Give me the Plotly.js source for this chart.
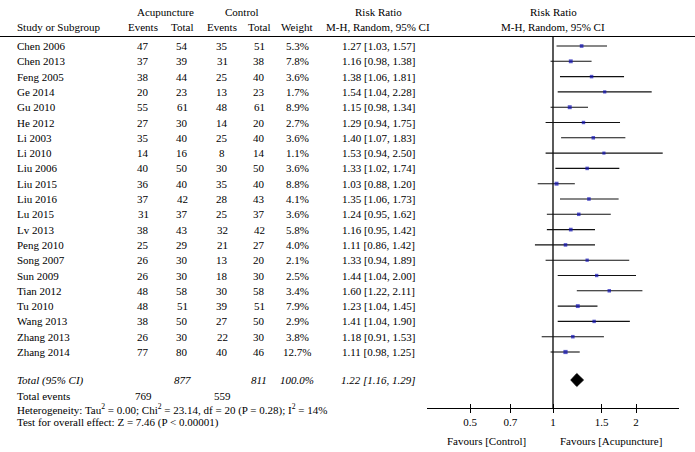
<!DOCTYPE html>
<html>
<head>
<meta charset="utf-8">
<script src="https://cdn.plot.ly/plotly-3.0.1.min.js"></script>
<style>html,body{margin:0;padding:0;background:#fff;}#chart{width:695px;height:452px;}</style>
</head>
<body>
<div id="chart"></div>
<script>
// ---- data ----
var studies = ["Chen 2006","Chen 2013","Feng 2005","Ge 2014","Gu 2010","He 2012","Li 2003","Li 2010","Liu 2006","Liu 2015","Liu 2016","Lu 2015","Lv 2013","Peng 2010","Song 2007","Sun 2009","Tian 2012","Tu 2010","Wang 2013","Zhang 2013","Zhang 2014"];
var acuEvents = [47,37,38,20,55,27,35,14,40,36,37,31,38,25,26,26,48,48,38,26,77];
var acuTotal = [54,39,44,23,61,30,40,16,50,40,42,37,43,29,30,30,58,51,50,30,80];
var ctrlEvents = [35,31,25,13,48,14,25,8,30,35,28,25,32,21,13,18,30,39,27,22,40];
var ctrlTotal = [51,38,40,23,61,20,40,14,50,40,43,37,42,27,20,30,58,51,50,30,46];
var weights = [5.3,7.8,3.6,1.7,8.9,2.7,3.6,1.1,3.6,8.8,4.1,3.6,5.8,4.0,2.1,2.5,3.4,7.9,2.9,3.8,12.7];
var rr = [1.27,1.16,1.38,1.54,1.15,1.29,1.40,1.53,1.33,1.03,1.35,1.24,1.16,1.11,1.33,1.44,1.60,1.23,1.41,1.18,1.11];
var lower = [1.03,0.98,1.06,1.04,0.98,0.94,1.07,0.94,1.02,0.88,1.06,0.95,0.95,0.86,0.94,1.04,1.22,1.04,1.04,0.91,0.98];
var upper = [1.57,1.38,1.81,2.28,1.34,1.75,1.83,2.50,1.74,1.20,1.73,1.62,1.42,1.42,1.89,2.00,2.11,1.45,1.90,1.53,1.25];
var totalLabel = "Total (95% CI)";
var totalAcu = 877, totalCtrl = 811, totalWeight = 100.0;
var totalEventsAcu = 769, totalEventsCtrl = 559;
var totalRR = 1.22, totalLower = 1.16, totalUpper = 1.29;
var heterogeneityText = "Heterogeneity: Tau<sup>2</sup> = 0.00; Chi<sup>2</sup> = 23.14, df = 20 (P = 0.28); I<sup>2</sup> = 14%";
var overallText = "Test for overall effect: Z = 7.46 (P < 0.00001)";
var tickVals = [0.5, 0.7, 1, 1.5, 2];
var tickText = ["0.5", "0.7", "1", "1.5", "2"];
var favoursLeft = "Favours [Control]";
var favoursRight = "Favours [Acupuncture]";

// ---- layout helpers ----
var W = 695, H = 452;
var FONT = "Liberation Serif, Times New Roman, serif";
function rowAt(px) { return (px - 46) / 15.3; }   // pixel -> row units
function px(x) { return x / W; }
var rows = studies.map(function (s, i) { return i; });
var yTotal = rowAt(380), yEvents = rowAt(396), yHetBottom = rowAt(419), yTest = rowAt(422);
var yHead1 = rowAt(12), yHead2 = rowAt(27);
var yLine = rowAt(36.5), yAxis = rowAt(408);

var annotations = [];
function txt(text, x, y, anchor, extra) {
  var a = {text: text, xref: 'paper', yref: 'y', x: px(x), y: y, xanchor: anchor || 'center', yanchor: 'middle',
    showarrow: false, font: {family: FONT, size: 11, color: '#000'}};
  if (extra) for (var k in extra) a[k] = extra[k];
  annotations.push(a);
}
// column centers
var cName = 15, cAE = 143, cAT = 182, cCE = 222, cCT = 259, cW = 297, cRR = 378, cPlot = 553;
// headers
txt("Acupuncture", 165, yHead1);
txt("Control", 242, yHead1);
txt("Risk Ratio", cRR, yHead1);
txt("Risk Ratio", cPlot, yHead1);
txt("Study or Subgroup", cName, yHead2, 'left');
txt("Events", cAE, yHead2);
txt("Total", cAT, yHead2);
txt("Events", cCE, yHead2);
txt("Total", cCT, yHead2);
txt("Weight", cW, yHead2);
txt("M-H, Random, 95% CI", cRR, yHead2);
txt("M-H, Random, 95% CI", cPlot, yHead2);
function ci(r, l, u) { return r.toFixed(2) + " [" + l.toFixed(2) + ", " + u.toFixed(2) + "]"; }
studies.forEach(function (s, i) {
  var y = rows[i];
  txt(s, cName, y, 'left');
  txt(String(acuEvents[i]), cAE, y);
  txt(String(acuTotal[i]), cAT, y);
  txt(String(ctrlEvents[i]), cCE, y);
  txt(String(ctrlTotal[i]), cCT, y);
  txt(weights[i].toFixed(1) + "%", cW, y);
  txt(ci(rr[i], lower[i], upper[i]), cRR, y);
});
txt("<i>" + totalLabel + "</i>", cName, yTotal, 'left');
txt("<i>" + totalAcu + "</i>", cAT, yTotal);
txt("<i>" + totalCtrl + "</i>", cCT, yTotal);
txt("<i>" + totalWeight.toFixed(1) + "%</i>", cW, yTotal);
txt("<i>" + ci(totalRR, totalLower, totalUpper) + "</i>", cRR, yTotal);
txt("Total events", cName, yEvents, 'left');
txt(String(totalEventsAcu), cAE, yEvents);
txt(String(totalEventsCtrl), cCE, yEvents);
txt(heterogeneityText, cName, yHetBottom, 'left', {yanchor: 'bottom'});
txt(overallText, cName, yTest, 'left');
txt(favoursLeft, 528, rowAt(441), 'right');
txt(favoursRight, 558, rowAt(441), 'left');

var traces = [
  {
    type: 'scatter', mode: 'markers', x: rr, y: rows, xaxis: 'x', yaxis: 'y',
    marker: {symbol: 'square', color: '#0f0fb4', line: {width: 0},
      size: weights.map(function (w) { return 2.7 + 0.42 * Math.sqrt(w); })},
    error_x: {type: 'data', symmetric: false,
      array: upper.map(function (u, i) { return u - rr[i]; }),
      arrayminus: lower.map(function (l, i) { return rr[i] - l; }),
      color: '#111', thickness: 1.1, width: 0},
    hoverinfo: 'skip', cliponaxis: false
  },
  {
    type: 'scatter', mode: 'lines', xaxis: 'x', yaxis: 'y',
    x: [totalLower, totalRR, totalUpper, totalRR, totalLower],
    y: [yTotal, yTotal - 0.42, yTotal, yTotal + 0.42, yTotal],
    fill: 'toself', fillcolor: '#000', line: {color: '#000', width: 1}, hoverinfo: 'skip'
  },
  {
    type: 'scatter', mode: 'markers', xaxis: 'x2', yaxis: 'y',
    x: [totalRR], y: [yTotal], marker: {opacity: 0}, hoverinfo: 'skip'
  }
];

var layout = {
  width: W, height: H,
  margin: {l: 0, r: 0, t: 0, b: 0},
  paper_bgcolor: '#fff', plot_bgcolor: 'rgba(0,0,0,0)',
  showlegend: false,
  font: {family: FONT, size: 11, color: '#000'},
  xaxis: {
    type: 'log', range: [-0.457, 0.457], domain: [427 / W, 679 / W],
    anchor: 'free', position: 44 / H,
    showline: true, linecolor: '#000', linewidth: 1,
    ticks: 'outside', ticklen: 4, tickwidth: 1, tickcolor: '#000',
    tickvals: tickVals, ticktext: tickText,
    tickfont: {family: FONT, size: 11, color: '#000'},
    showgrid: false, zeroline: false, fixedrange: true
  },
  xaxis2: {
    type: 'log', range: [-0.457, 0.457], overlaying: 'x',
    anchor: 'free', position: 44 / H,
    showline: false, ticks: 'inside', ticklen: 4, tickwidth: 1, tickcolor: '#000',
    tickvals: tickVals, showticklabels: false,
    showgrid: false, zeroline: false, fixedrange: true
  },
  yaxis: {
    domain: [0, 1], range: [rowAt(H), rowAt(0)], visible: false,
    showgrid: false, zeroline: false, fixedrange: true
  },
  shapes: [
    {type: 'line', xref: 'paper', yref: 'y', x0: 0, x1: 1, y0: yLine, y1: yLine, line: {color: '#000', width: 1}},
    {type: 'line', xref: 'x', yref: 'y', x0: 1, x1: 1, y0: yLine, y1: yAxis, line: {color: '#000', width: 1.3}, layer: 'below'}
  ],
  annotations: annotations
};

Plotly.newPlot('chart', traces, layout, {displayModeBar: false, staticPlot: true});
</script>
</body>
</html>
